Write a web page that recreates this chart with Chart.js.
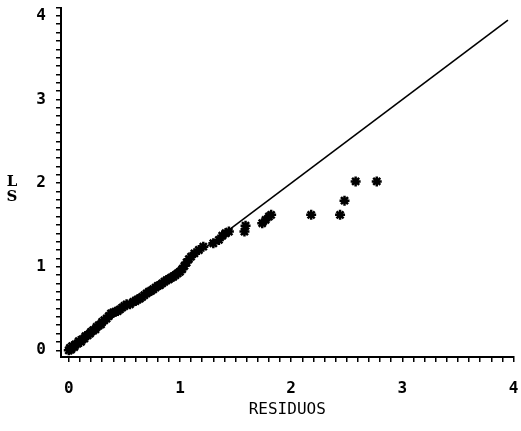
<!DOCTYPE html>
<html>
<head>
    <title>LS vs Residuos</title>
    <script src="https://cdn.jsdelivr.net/npm/chart.js"></script>
    <style>
        body { margin: 0; background: #fff; }
    </style>
</head>
<body>
    <canvas id="qqChart" width="521" height="431"></canvas>

    <script>
        // residuos (x) and LS (y)
        const residuos = [
            0.00, 0.01, 0.02, 0.03, 0.05, 0.06, 0.08, 0.09, 0.11, 0.12,
            0.14, 0.15, 0.17, 0.19, 0.20, 0.22, 0.24, 0.25, 0.27, 0.29,
            0.30, 0.32, 0.34, 0.36, 0.38, 0.40, 0.42, 0.44, 0.46, 0.48,
            0.50, 0.52, 0.55, 0.58, 0.60, 0.62, 0.64, 0.66, 0.68, 0.70,
            0.72, 0.74, 0.76, 0.78, 0.80, 0.82, 0.84, 0.86, 0.88, 0.90,
            0.92, 0.94, 0.96, 0.98, 1.00, 1.02, 1.04, 1.06, 1.08, 1.10,
            1.13, 1.17, 1.21, 1.30, 1.35, 1.38, 1.41, 1.44, 1.58, 1.59,
            1.74, 1.77, 1.80, 1.82, 2.18, 2.44, 2.48, 2.58, 2.77
        ];
        const ls = [
            0.00, 0.03, 0.01, 0.05, 0.04, 0.07, 0.08, 0.11, 0.10, 0.13,
            0.14, 0.17, 0.18, 0.20, 0.22, 0.24, 0.25, 0.28, 0.30, 0.31,
            0.34, 0.36, 0.38, 0.41, 0.44, 0.45, 0.46, 0.47, 0.49, 0.51,
            0.53, 0.55, 0.55, 0.58, 0.59, 0.61, 0.62, 0.64, 0.66, 0.68,
            0.70, 0.71, 0.73, 0.75, 0.77, 0.78, 0.80, 0.82, 0.84, 0.85,
            0.87, 0.88, 0.90, 0.92, 0.94, 0.97, 1.01, 1.05, 1.09, 1.12,
            1.16, 1.20, 1.24, 1.28, 1.32, 1.37, 1.40, 1.42, 1.42, 1.49,
            1.52, 1.56, 1.60, 1.62, 1.62, 1.62, 1.79, 2.02, 2.02
        ];
        // 45 degree reference line
        const lineX = [0, 3.95];
        const lineY = [0, 3.95];

        const points = residuos.map((x, i) => ({ x: x, y: ls[i] }));
        const refLine = lineX.map((x, i) => ({ x: x, y: lineY[i] }));

        const monoFont = { family: 'DejaVu Sans Mono', size: 16, weight: 'bold' };

        function tenthTicks(scale, from, to) {
            const ticks = [];
            for (let i = from; i <= to; i++) {
                ticks.push({ value: i / 10 });
            }
            scale.ticks = ticks;
        }

        // stacked "L S" y axis title
        const stackedTitle = {
            id: 'stackedTitle',
            afterDraw(chart) {
                const ctx = chart.ctx;
                ctx.save();
                ctx.fillStyle = '#000';
                ctx.font = 'bold 15px "DejaVu Serif"';
                ctx.textAlign = 'center';
                ctx.textBaseline = 'middle';
                ctx.fillText('L', 12, 182);
                ctx.fillText('S', 12, 197);
                ctx.restore();
            }
        };

        const chart = new Chart(document.getElementById('qqChart'), {
            type: 'scatter',
            data: {
                datasets: [{
                    label: 'LS',
                    data: points,
                    pointStyle: 'star',
                    pointRadius: 5,
                    borderColor: '#000',
                    backgroundColor: '#000',
                    pointBorderWidth: 2.5
                }, {
                    label: 'ref',
                    type: 'line',
                    data: refLine,
                    borderColor: '#000',
                    borderWidth: 1.6,
                    pointRadius: 0,
                    fill: false
                }]
            },
            options: {
                responsive: false,
                animation: false,
                layout: { padding: { top: 5, right: -4, left: 0, bottom: 0 } },
                plugins: {
                    legend: { display: false },
                    tooltip: { enabled: false }
                },
                scales: {
                    x: {
                        type: 'linear',
                        min: -0.07,
                        max: 4.0,
                        afterBuildTicks: (s) => tenthTicks(s, 0, 40),
                        afterFit: (s) => { s.height = 74; s.paddingLeft = 0; s.paddingRight = 0; },
                        border: { display: true, color: '#000', width: 2 },
                        grid: { drawOnChartArea: false, color: '#000', tickLength: 5, lineWidth: 1.5 },
                        ticks: {
                            autoSkip: false,
                            maxRotation: 0,
                            color: '#000',
                            font: monoFont,
                            padding: 17,
                            callback: (v) => (v % 1 === 0 ? String(v) : '')
                        },
                        title: {
                            display: true,
                            text: 'RESIDUOS',
                            color: '#000',
                            font: { family: 'DejaVu Sans Mono', size: 16 },
                            padding: { top: 0, bottom: 12 }
                        }
                    },
                    y: {
                        type: 'linear',
                        min: -0.08,
                        max: 4.1,
                        afterBuildTicks: (s) => tenthTicks(s, 0, 41),
                        afterFit: (s) => { s.width = 61; s.paddingTop = 0; s.paddingBottom = 0; },
                        border: { display: true, color: '#000', width: 2 },
                        grid: { drawOnChartArea: false, color: '#000', tickLength: 5, lineWidth: 1.5 },
                        ticks: {
                            autoSkip: false,
                            color: '#000',
                            font: monoFont,
                            padding: 10,
                            callback: (v) => (v % 1 === 0 ? String(v) : '')
                        }
                    }
                }
            },
            plugins: [stackedTitle]
        });
    </script>
</body>
</html>
